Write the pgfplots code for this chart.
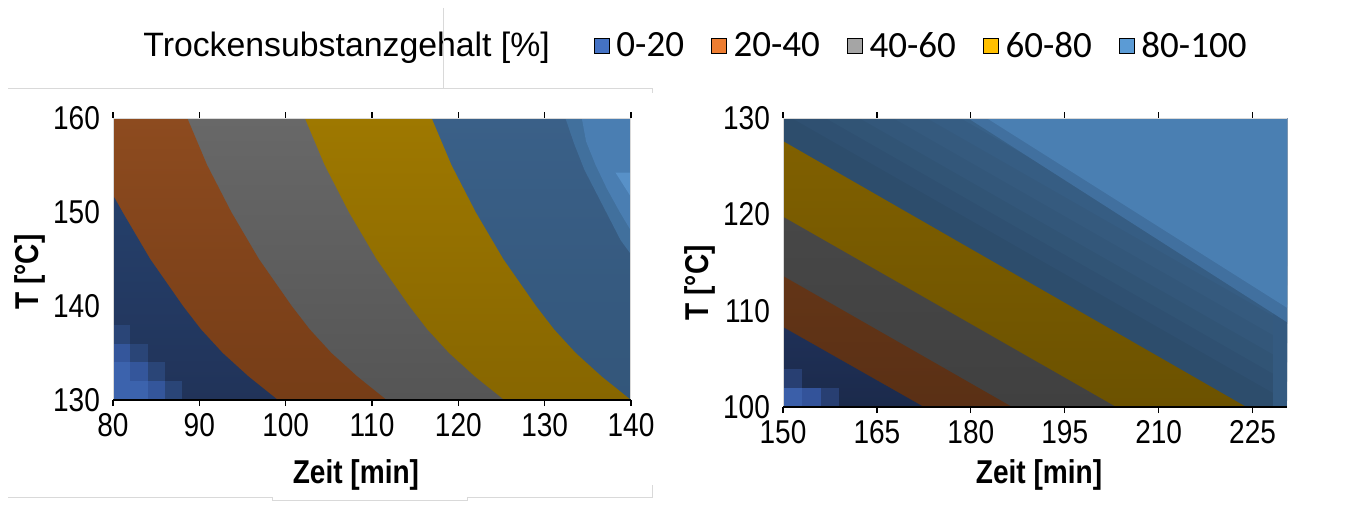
\documentclass[border=0pt]{standalone}
\usepackage{fontspec}
\setmainfont{Liberation Sans}
\newfontfamily\narrowfont{Liberation Sans}[FakeStretch=0.85]
\newfontfamily\carlito{Carlito}
\usepackage{pgfplots}
\pgfplotsset{compat=1.18}

\newcommand\tickfont{\narrowfont\fontsize{16.5}{19}\selectfont}
\newcommand\labfont{\narrowfont\bfseries\fontsize{16.5}{19}\selectfont}
\newcommand\legfont{\carlito\fontsize{18.5}{21}\selectfont}
\newcommand\titfont{\rmfamily\fontsize{16.9}{19}\selectfont}

% legend colours
\definecolor{lg1}{HTML}{4472C4}
\definecolor{lg2}{HTML}{ED7D31}
\definecolor{lg3}{HTML}{A5A5A5}
\definecolor{lg4}{HTML}{FFC000}
\definecolor{lg5}{HTML}{5B9BD5}
% left panel
\definecolor{LblueT}{HTML}{3A6088}
\definecolor{LblueB}{HTML}{33567A}
\definecolor{Lmid}{HTML}{41709D}
\definecolor{Llight}{HTML}{4A7EB2}
\definecolor{Lbright}{HTML}{5891C8}
\definecolor{LgoldT}{HTML}{9E7800}
\definecolor{LgoldB}{HTML}{876600}
\definecolor{LgrayT}{HTML}{686868}
\definecolor{LgrayB}{HTML}{555555}
\definecolor{LoraT}{HTML}{8D4B1F}
\definecolor{LoraB}{HTML}{763D17}
\definecolor{LnavT}{HTML}{25406B}
\definecolor{LnavB}{HTML}{213359}
\definecolor{cdim}{HTML}{2A4577}
\definecolor{cmed}{HTML}{34569B}
\definecolor{clight}{HTML}{3C63AD}
% right panel
\definecolor{Rb0}{HTML}{2D4D6C}
\definecolor{Rb1}{HTML}{2F5071}
\definecolor{Rb2}{HTML}{315475}
\definecolor{Rb3}{HTML}{33577A}
\definecolor{Rb4}{HTML}{355A7E}
\definecolor{Rb5}{HTML}{365D83}
\definecolor{Rb6}{HTML}{386188}
\definecolor{Rb7}{HTML}{3A648C}
\definecolor{Rb8}{HTML}{3C6791}
\definecolor{Rmid}{HTML}{41709F}
\definecolor{Rlight}{HTML}{4A7FB2}
\definecolor{Rcol}{HTML}{345A80}
\definecolor{RgoldT}{HTML}{806000}
\definecolor{RgoldB}{HTML}{6C5200}
\definecolor{RgrayT}{HTML}{474747}
\definecolor{RgrayB}{HTML}{404040}
\definecolor{RoraT}{HTML}{633517}
\definecolor{RoraB}{HTML}{5A3015}
\definecolor{RnavT}{HTML}{1F3057}
\definecolor{RnavB}{HTML}{1B2A4B}
\definecolor{rdim}{HTML}{283F72}
\definecolor{rmed}{HTML}{33539A}
\definecolor{rlight}{HTML}{3B5FA9}

\pgfplotsset{
  panel/.style={
    scale only axis,
    axis line style={draw=none},
    tick align=outside,
    major tick length=3pt,
    xtick style={black, line width=0.6pt},
    ytick style={draw=none},
    tick label style={font=\tickfont},
    /pgf/number format/assume math mode=true,
    label style={font=\labfont},
  },
  poly/.style={draw=none, forget plot},
}

\begin{document}
\begin{tikzpicture}
\path[use as bounding box] (0pt,0pt) rectangle (685pt,252pt);

% ---------------- left panel ----------------
\begin{axis}[panel,
  at={(56.5pt,52pt)}, anchor=south west,
  width=259pt, height=141pt,
  xmin=80, xmax=140, ymin=130, ymax=160,
  xtick={80,90,100,110,120,130,140},
  ytick={130,140,150,160},
  xlabel={Zeit [min]}, ylabel={T [°C]},
  xlabel style={at={(axis description cs:0.469,-0.266)}, anchor=center},
  ylabel style={at={(axis description cs:-0.160,0.454)}, anchor=center},
  legend columns=6,
  legend image code/.code={\fill[#1] (0pt,-3.75pt) rectangle (7.5pt,3.75pt);},
  legend style={at={(axis description cs:0.0444,1.2553)}, anchor=west,
    draw=none, fill=none, inner sep=0pt, font=\legfont,
    nodes={inner sep=0pt},
    /tikz/every odd column/.style={column sep=3.5pt},
    /tikz/every even column/.style={column sep=13.4pt}},
]
% 80-100 base
\addplot[poly, top color=LblueT, bottom color=LblueB] coordinates {(80,130) (140,130) (140,160) (80,160)} -- cycle;
% lighter top-right part
\addplot[poly, fill=Lmid] coordinates {(132.4,160) (140,160) (140,145.5) (138.8,147) (137.4,149.5) (136,152) (134.6,154.5) (133.4,157.3)} -- cycle;
\addplot[poly, fill=Llight] coordinates {(134.3,160) (140,160) (140,148) (138.7,150) (137.2,152.5) (135.9,155) (134.8,157.5)} -- cycle;
\addplot[poly, fill=Lbright] coordinates {(138.2,154.2) (140,154.2) (140,151.6)} -- cycle;
% 60-80
\addplot[poly, top color=LgoldT, bottom color=LgoldB] coordinates {(80,130) (140,130) (136.6,132.5) (133.6,135) (131.1,137.5) (129.0,140) (125.2,145) (122.0,150) (119.2,155) (116.9,160) (80,160)} -- cycle;
% 40-60
\addplot[poly, top color=LgrayT, bottom color=LgrayB] coordinates {(80,130) (125.3,130) (121.9,132.5) (118.9,135) (116.4,137.5) (114.3,140) (110.5,145) (107.3,150) (104.5,155) (102.2,160) (80,160)} -- cycle;
% 20-40
\addplot[poly, top color=LoraT, bottom color=LoraB] coordinates {(80,130) (111.7,130) (108.3,132.5) (105.3,135) (102.8,137.5) (100.7,140) (96.9,145) (93.7,150) (90.9,155) (88.6,160) (80,160)} -- cycle;
% 0-20
\addplot[poly, top color=LnavT, bottom color=LnavB] coordinates {(80,130) (99.1,130) (95.7,132.5) (92.7,135) (90.2,137.5) (88.1,140) (84.3,145) (81.1,150) (80,151.8)} -- cycle;
% lighter cells in the corner
\addplot[poly, fill=cdim] coordinates {(80,136) (82,136) (82,138) (80,138)} -- cycle;
\addplot[poly, fill=cmed] coordinates {(80,134) (82,134) (82,136) (80,136)} -- cycle;
\addplot[poly, fill=cdim] coordinates {(82,134) (84,134) (84,136) (82,136)} -- cycle;
\addplot[poly, fill=clight] coordinates {(80,132) (82,132) (82,134) (80,134)} -- cycle;
\addplot[poly, fill=cmed] coordinates {(82,132) (84,132) (84,134) (82,134)} -- cycle;
\addplot[poly, fill=cdim] coordinates {(84,132) (86,132) (86,134) (84,134)} -- cycle;
\addplot[poly, fill=clight] coordinates {(80,130) (82,130) (82,132) (80,132)} -- cycle;
\addplot[poly, fill=clight] coordinates {(82,130) (84,130) (84,132) (82,132)} -- cycle;
\addplot[poly, fill=cmed] coordinates {(84,130) (86,130) (86,132) (84,132)} -- cycle;
\addplot[poly, fill=cdim] coordinates {(86,130) (88,130) (88,132) (86,132)} -- cycle;

\draw[black!15, line width=0.5pt] (rel axis cs:0,0) rectangle (rel axis cs:1,1);
\draw[black, line width=0.6pt] (rel axis cs:0,0) -- (rel axis cs:1,0);

% legend
\addlegendimage{empty legend}
\addlegendentry{\titfont Trockensubstanzgehalt [\%]\rule{8.5pt}{0pt}}
\addlegendimage{fill=lg1}
\addlegendentry{0-20}
\addlegendimage{fill=lg2}
\addlegendentry{20-40}
\addlegendimage{fill=lg3}
\addlegendentry{40-60}
\addlegendimage{fill=lg4}
\addlegendentry{60-80}
\addlegendimage{fill=lg5}
\addlegendentry{80-100}
\end{axis}

% ---------------- right panel ----------------
\begin{axis}[panel,
  at={(391.5pt,48.5pt)}, anchor=south west,
  width=252pt, height=144.5pt,
  xmin=150, xmax=230.5, ymin=100, ymax=130,
  xtick={150,165,180,195,210,225},
  ytick={100,110,120,130},
  xlabel={Zeit [min]}, ylabel={T [°C]},
  xlabel style={at={(axis description cs:0.508,-0.235)}, anchor=center},
  ylabel style={at={(axis description cs:-0.165,0.43)}, anchor=center},
]
% 80-100 base and shading strips
\addplot[poly, fill=Rb0] coordinates {(150,100) (230.5,100) (230.5,130) (150,130)} -- cycle;
\addplot[poly, fill=Rb1] coordinates {(151.35,130) (230.5,130) (230.5,100.63)} -- cycle;
\addplot[poly, fill=Rb2] coordinates {(156.74,130) (230.5,130) (230.5,102.63)} -- cycle;
\addplot[poly, fill=Rb3] coordinates {(162.13,130) (230.5,130) (230.5,104.63)} -- cycle;
\addplot[poly, fill=Rb4] coordinates {(167.52,130) (230.5,130) (230.5,106.63)} -- cycle;
\addplot[poly, fill=Rb5] coordinates {(172.91,130) (230.5,130) (230.5,108.63)} -- cycle;
\addplot[poly, fill=Rb6] coordinates {(178.30,130) (230.5,130) (230.5,110.63)} -- cycle;
\addplot[poly, fill=Rb7] coordinates {(183.69,130) (230.5,130) (230.5,112.63)} -- cycle;
\addplot[poly, fill=Rb8] coordinates {(189.08,130) (230.5,130) (230.5,114.63)} -- cycle;
\addplot[poly, fill=Rcol] coordinates {(228.3,100) (230.5,100) (230.5,110.3) (228.3,110.3)} -- cycle;
\addplot[poly, fill=Rmid] coordinates {(179.5,130) (230.5,130) (230.5,108.8)} -- cycle;
\addplot[poly, fill=Rlight] coordinates {(182.5,130) (230.5,130) (230.5,110.3)} -- cycle;
% 60-80
\addplot[poly, top color=RgoldT, bottom color=RgoldB] coordinates {(150,100) (224.0,100) (150,127.6)} -- cycle;
% 40-60
\addplot[poly, top color=RgrayT, bottom color=RgrayB] coordinates {(150,100) (203.2,100) (150,119.75)} -- cycle;
% 20-40
\addplot[poly, top color=RoraT, bottom color=RoraB] coordinates {(150,100) (186.6,100) (150,113.6)} -- cycle;
% 0-20
\addplot[poly, top color=RnavT, bottom color=RnavB] coordinates {(150,100) (172.5,100) (150,108.3)} -- cycle;
% lighter cells
\addplot[poly, fill=rlight] coordinates {(150,100) (153,100) (153,101.95) (150,101.95)} -- cycle;
\addplot[poly, fill=rmed] coordinates {(153,100) (156,100) (156,101.95) (153,101.95)} -- cycle;
\addplot[poly, fill=rdim] coordinates {(156,100) (159,100) (159,101.95) (156,101.95)} -- cycle;
\addplot[poly, fill=rdim] coordinates {(150,101.95) (153,101.95) (153,103.9) (150,103.9)} -- cycle;

\draw[black!15, line width=0.5pt] (rel axis cs:0,0) rectangle (rel axis cs:1,1);
\draw[black, line width=0.6pt] (rel axis cs:0,0) -- (rel axis cs:1,0);
\end{axis}

% faint chart-area borders of the original
\draw[black!15, line width=0.5pt] (4pt,207.5pt) -- (326pt,207.5pt) -- (326pt,205.5pt);
\draw[black!15, line width=0.5pt] (221.5pt,248pt) -- (221.5pt,207.5pt);
\draw[black!15, line width=0.5pt] (4pt,3.5pt) -- (136pt,3.5pt) -- (136pt,2pt) -- (233.5pt,2pt) -- (233.5pt,3.5pt) -- (326pt,3.5pt) -- (326pt,9.5pt);
\end{tikzpicture}
\end{document}
